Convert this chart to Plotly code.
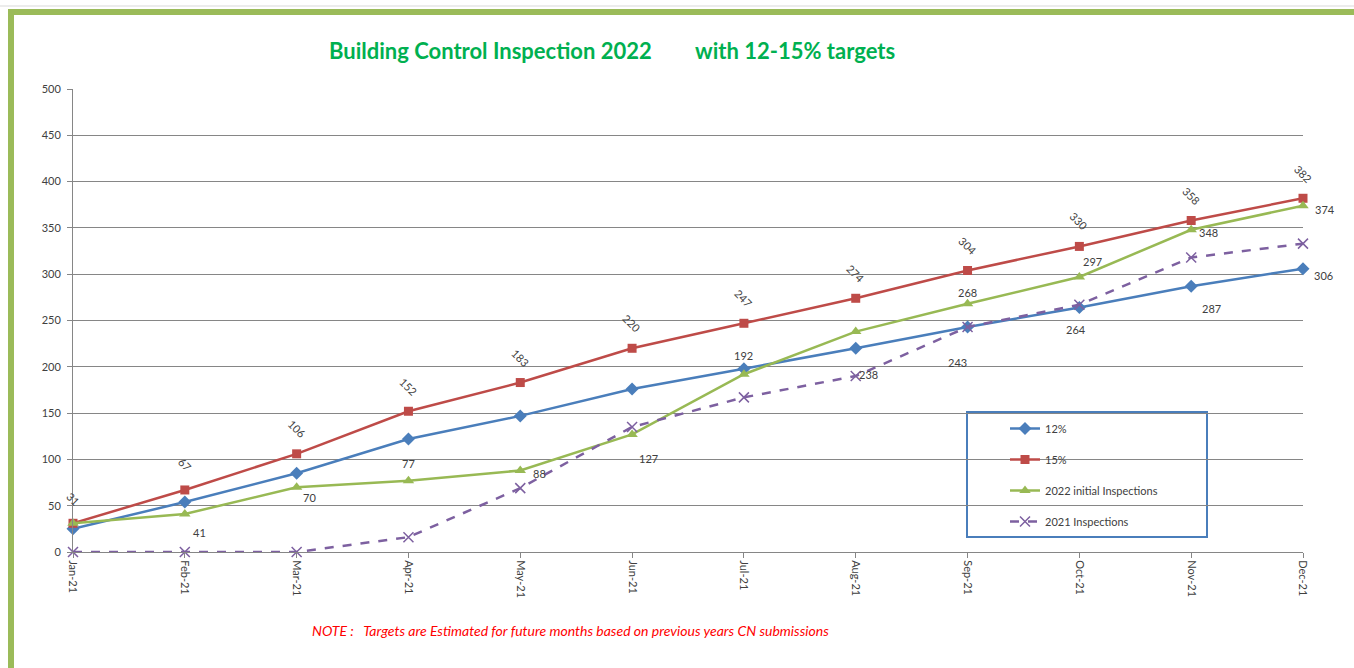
import plotly.graph_objects as go

months = ["Jan-21", "Feb-21", "Mar-21", "Apr-21", "May-21", "Jun-21",
          "Jul-21", "Aug-21", "Sep-21", "Oct-21", "Nov-21", "Dec-21"]
target_12 = [25, 54, 85, 122, 147, 176, 198, 220, 243, 264, 287, 306]
target_15 = [31, 67, 106, 152, 183, 220, 247, 274, 304, 330, 358, 382]
initial_2022 = [31, 41, 70, 77, 88, 127, 192, 238, 268, 297, 348, 374]
insp_2021 = [0, 0, 0, 16, 69, 135, 167, 190, 243, 267, 318, 333]

# which points carry a data label (index -> (xshift, yshift))
lbl_15 = {i: (0, 25) for i in range(12)}
lbl_2022 = {1: (15, -18), 2: (13, -10), 3: (0, 17), 4: (19, -3), 5: (16, -24),
            6: (0, 19), 7: (13, -43), 8: (0, 11), 9: (13, 15), 10: (17, -3), 11: (22, -4)}
lbl_12 = {8: (-10, -36), 9: (-3, -22), 10: (20, -22), 11: (20, -7)}

BLUE = "#4A7EBB"
RED = "#BE4B48"
GREEN = "#98B954"
PURPLE = "#7D60A0"
FONT = "Lato"

fig = go.Figure()
fig.add_trace(go.Scatter(x=months, y=target_12, name="12%", mode="lines+markers",
                         line=dict(color=BLUE, width=2.5),
                         marker=dict(symbol="diamond", size=10, color=BLUE),
                         cliponaxis=False, legendgroup="a"))
fig.add_trace(go.Scatter(x=months, y=target_15, name="15%", mode="lines+markers",
                         line=dict(color=RED, width=2.5),
                         marker=dict(symbol="square", size=9, color=RED),
                         cliponaxis=False, legendgroup="b"))
fig.add_trace(go.Scatter(x=months, y=initial_2022, name="2022 initial Inspections",
                         mode="lines+markers", line=dict(color=GREEN, width=2.5),
                         marker=dict(symbol="triangle-up", size=10, color=GREEN),
                         cliponaxis=False, legendgroup="c"))
fig.add_trace(go.Scatter(x=months, y=insp_2021, name="2021 Inspections",
                         mode="lines+markers",
                         line=dict(color=PURPLE, width=2.5, dash="dash"),
                         marker=dict(symbol="x-thin", size=10,
                                     line=dict(color=PURPLE, width=1.5)),
                         cliponaxis=False, legendgroup="d"))

anns = []
lab_font = dict(family=FONT, size=11, color="#404040")
for i, (dx, dy) in lbl_15.items():
    anns.append(dict(x=months[i], y=target_15[i], xref="x", yref="y", text=str(target_15[i]),
                     showarrow=False, xshift=dx, yshift=dy, textangle=45, font=lab_font))
for i, (dx, dy) in lbl_2022.items():
    anns.append(dict(x=months[i], y=initial_2022[i], xref="x", yref="y", text=str(initial_2022[i]),
                     showarrow=False, xshift=dx, yshift=dy, font=lab_font))
for i, (dx, dy) in lbl_12.items():
    anns.append(dict(x=months[i], y=target_12[i], xref="x", yref="y", text=str(target_12[i]),
                     showarrow=False, xshift=dx, yshift=dy, font=lab_font))

W, H = 1354, 668
L, R, T, B = 73, 51, 89, 116
pw, ph = W - L - R, H - T - B


def px(x):
    return (x - L) / pw


def py(y):
    return (H - B - y) / ph


title_font = dict(family=FONT, size=22, color="#00B050")
anns.append(dict(x=px(490), y=py(50), xref="paper", yref="paper", showarrow=False,
                 xanchor="center", yanchor="middle",
                 text="<b>Building Control Inspection 2022</b>", font=title_font))
anns.append(dict(x=px(795), y=py(50), xref="paper", yref="paper", showarrow=False,
                 xanchor="center", yanchor="middle",
                 text="<b>with 12-15% targets</b>", font=title_font))
anns.append(dict(x=px(570), y=py(630), xref="paper", yref="paper", showarrow=False,
                 xanchor="center", yanchor="middle",
                 text="<i>NOTE :   Targets are Estimated for future months based on previous years CN submissions</i>",
                 font=dict(family=FONT, size=14, color="#FF0000")))

shapes = [
    # sheet grid line at the top
    dict(type="line", xref="paper", yref="paper", x0=px(0), x1=px(W), y0=py(6), y1=py(6),
         line=dict(color="#D9D9D9", width=1)),
    # green chart frame
    dict(type="rect", xref="paper", yref="paper", x0=px(11), y0=py(12), x1=px(W + 20), y1=py(H + 20),
         line=dict(color="#9BBB59", width=6)),
    # legend frame
    dict(type="rect", xref="paper", yref="paper", x0=px(967), y0=py(412), x1=px(1207), y1=py(537),
         line=dict(color="#4A7EBB", width=2), fillcolor="white", layer="below"),
]

fig.update_layout(
    width=W, height=H,
    margin=dict(l=L, r=R, t=T, b=B),
    paper_bgcolor="white", plot_bgcolor="white",
    font=dict(family=FONT, size=11, color="#404040"),
    showlegend=True,
    legend=dict(x=px(1005), y=py(414), xanchor="left", yanchor="top",
                bgcolor="rgba(0,0,0,0)", borderwidth=0, tracegroupgap=12,
                font=dict(family=FONT, size=11, color="#404040")),
    annotations=anns,
    shapes=shapes,
    xaxis=dict(type="category", range=[0, 11], showgrid=False, showline=True,
               linecolor="#868686", linewidth=1, ticks="outside", ticklen=5,
               tickcolor="#868686", tickangle=90, tickfont=dict(size=11, color="#404040"),
               zeroline=False),
    yaxis=dict(range=[0, 500], dtick=50, showgrid=True, gridcolor="#868686", gridwidth=1,
               showline=True, linecolor="#868686", linewidth=1, ticks="outside", ticklen=5,
               tickcolor="#868686", zeroline=False, ticklabelstandoff=4,
               tickfont=dict(size=11, color="#404040")),
)

fig.write_html("out.html", config={"displayModeBar": False},
               post_script="document.body.style.margin='0';")
